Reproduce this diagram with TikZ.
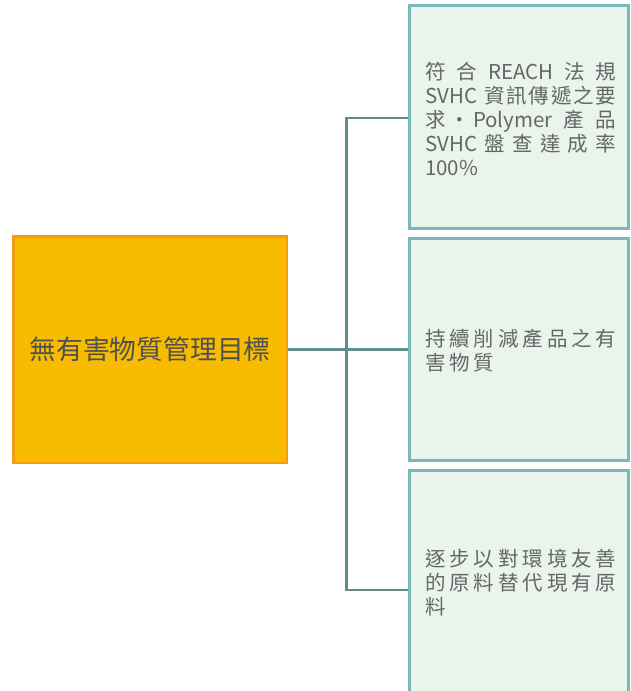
\documentclass[tikz,border=0pt]{standalone}
\usepackage{fontspec}
\setmainfont{Noto Sans CJK TC}
\definecolor{orangeline}{HTML}{F39C12}
\definecolor{goldfill}{HTML}{F7BC00}
\definecolor{tealline}{HTML}{7AB8BB}
\definecolor{mintfill}{HTML}{E9F4EC}
\definecolor{linkteal}{HTML}{5E8F8B}
\definecolor{textgray}{HTML}{666666}
\definecolor{darkgray}{HTML}{505050}
\newcommand{\cc}[1]{\makebox[24.4pt][l]{#1}}
\newcommand{\fillline}[1]{\makebox[191pt][s]{#1}}
\begin{document}
\begin{tikzpicture}[x=1pt,y=-1pt]
\useasboundingbox (0,0) rectangle (630,691);
\tikzset{
  goalbox/.style={draw=orangeline, line width=2.5pt, fill=goldfill, inner sep=0pt, text=darkgray, font=\fontsize{26.8}{30}\selectfont},
  itembox/.style={draw=tealline, line width=3pt, fill=mintfill, inner sep=0pt},
  itemtext/.style={text=textgray, font=\fontsize{20.5}{24}\selectfont, align=left, text width=200pt, inner sep=0pt, anchor=west},
  link/.style={draw=linkteal, line width=2.5pt}
}
\node[goalbox, minimum width=273.5pt, minimum height=226.5pt] (goal) at (150,349.5) {無有害物質管理目標};
\node[itembox, minimum width=219pt, minimum height=223pt] (b1) at (519,117) {};
\node[itembox, minimum width=219pt, minimum height=222pt] (b2) at (519,349.5) {};
\node[itembox, minimum width=219pt, minimum height=239.5pt] (b3) at (519,590) {};
\node[itemtext] (t1) at (425,119) {%
\fillline{符\hfill 合\hfill REACH\hfill 法\hfill 規}\\
\fillline{SVHC\hspace{5pt}\hfill 資\hfill 訊\hfill 傳\hfill 遞\hfill 之\hfill 要}\\
\fillline{求\,·\,Polymer\hfill 產\hfill 品}\\
\fillline{SVHC\hfill 盤\hfill 查\hfill 達\hfill 成\hfill 率}\\
100\%};
\node[itemtext] (t2) at (425,351) {%
\cc{持}\cc{續}\cc{削}\cc{減}\cc{產}\cc{品}\cc{之}\cc{有}\\
\cc{害}\cc{物}\cc{質}};
\node[itemtext] (t3) at (425,583) {%
\cc{逐}\cc{步}\cc{以}\cc{對}\cc{環}\cc{境}\cc{友}\cc{善}\\
\cc{的}\cc{原}\cc{料}\cc{替}\cc{代}\cc{現}\cc{有}\cc{原}\\
\cc{料}};
\coordinate (trunk) at (346.5,349.5);
\draw[link] (goal.east) -- (b2.west);
\draw[link] (b1.west |- 0,118) -| (trunk |- b3.west) -- (b3.west);
\end{tikzpicture}
\end{document}
